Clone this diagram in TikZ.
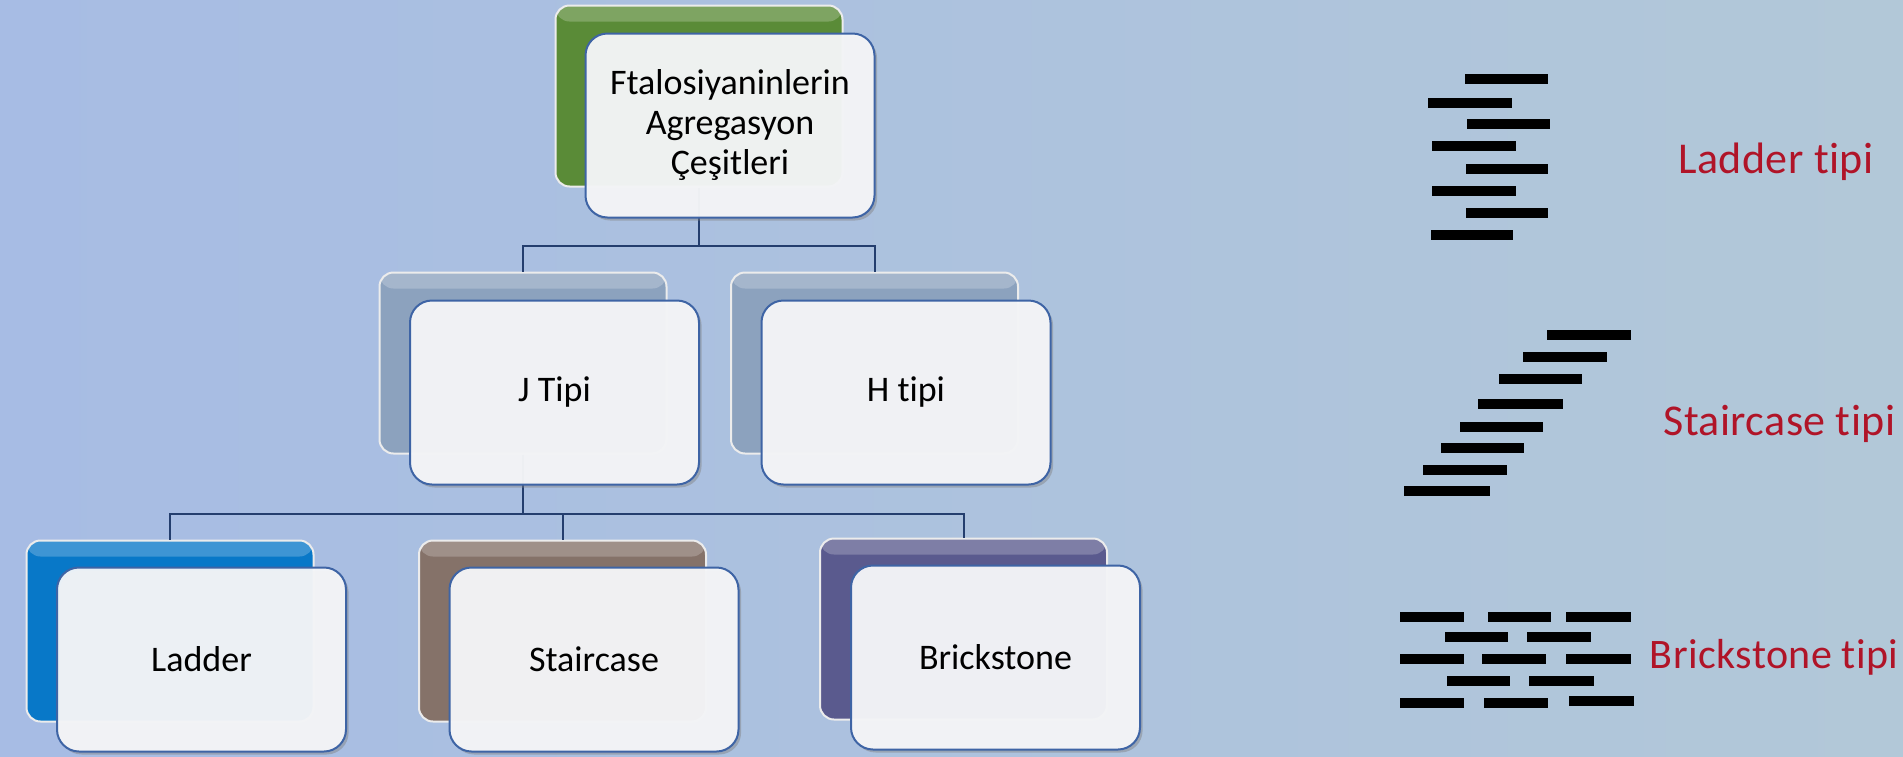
\documentclass[tikz,border=0pt]{standalone}
\usepackage{fontspec}
\setmainfont{Carlito}[Ligatures=NoCommon]
\newfontfamily\labelfont{Carlito}[Ligatures=NoCommon, LetterSpace=1]
\usetikzlibrary{shadows}

\definecolor{bgleft}{RGB}{167,188,228}
\definecolor{bgright}{RGB}{178,200,216}
\definecolor{linkblue}{RGB}{36,62,110}
\definecolor{frontedge}{RGB}{62,100,165}
\definecolor{frontfill}{RGB}{246,247,249}
\definecolor{rootgreen}{RGB}{90,139,55}
\definecolor{midgray}{RGB}{140,162,190}
\definecolor{ladderblue}{RGB}{8,120,200}
\definecolor{stairbrown}{RGB}{133,114,105}
\definecolor{brickpurple}{RGB}{90,90,142}
\definecolor{labelred}{RGB}{176,20,40}

\tikzset{
  backbox/.style={rectangle, rounded corners=7pt, minimum width=143.5pt,
    minimum height=90.5pt, inner sep=0pt, fill=#1, draw=white!85!gray, line width=1pt,
    path picture={\fill[white,opacity=0.22] (path picture bounding box.north west)
      rectangle ([yshift=-8pt]path picture bounding box.north east);}},
  frontbox/.style={rectangle, rounded corners=11pt, minimum width=144.5pt,
    minimum height=92pt, inner sep=0pt, draw=frontedge, line width=1pt,
    fill=frontfill, fill opacity=0.95, text opacity=1,
    font=\fontsize{18}{20}\selectfont, align=center,
    drop shadow={shadow xshift=1.3pt, shadow yshift=-1.5pt, opacity=0.45}},
  link/.style={draw=linkblue, line width=1pt},
  bar/.style={line width=5pt, black},
  typelabel/.style={anchor=base west, text=labelred, inner sep=0pt,
    font=\labelfont\fontsize{22}{26}\selectfont}
}

\begin{document}
\begin{tikzpicture}[x=0.5pt,y=-0.5pt]
\useasboundingbox (0,0) rectangle (1903,756);
\shade[left color=bgleft,right color=bgright] (0,0) rectangle (1903,756);

% coloured back panels
\node[backbox=rootgreen]   (rootbg)  at (699,96)    {};
\node[backbox=midgray]     (jbg)     at (523,363)   {};
\node[backbox=midgray]     (hbg)     at (874.5,363) {};
\node[backbox=ladderblue]  (ladbg)   at (170,631)   {};
\node[backbox=stairbrown]  (stairbg) at (562.5,631) {};
\node[backbox=brickpurple] (brickbg) at (963.5,629) {};

% elbow connectors
\draw[link] (rootbg.south) -- ++(0,58) -| (jbg.north);
\draw[link] (rootbg.south) -- ++(0,58) -| (hbg.north);
\draw[link] (jbg.south) -- ++(0,59) -| (ladbg.north);
\draw[link] (jbg.south) -- ++(0,59) -| (stairbg.north);
\draw[link] (jbg.south) -- ++(0,59) -| (brickbg.north);

% translucent front cards with the labels
\node[frontbox] (root)  at (730,125.5)   {Ftalosiyaninlerin\\Agregasyon\\Çeşitleri};
\node[frontbox] (jtype) at (554.5,392.5) {J Tipi};
\node[frontbox] (htype) at (906,392.5)   {H tipi};
\node[frontbox] (ladder) at (201.5,659.5) {Ladder};
\node[frontbox] (stair)  at (594,659.5)   {Staircase};
\node[frontbox] (brick)  at (995.5,657.5) {Brickstone};

% ladder stacking
\foreach \xa/\xb/\yy in {1465/1548/79, 1428/1512/103, 1467/1550/124, 1432/1516/146,
    1466/1548/169, 1432/1516/191, 1466/1548/213, 1431/1513/235}
  \draw[bar] (\xa,\yy) -- (\xb,\yy);

% staircase stacking
\foreach \xa/\xb/\yy in {1547/1631/335, 1523/1607/357, 1499/1582/379, 1478/1563/404,
    1460/1543/427, 1441/1524/448, 1423/1507/470, 1404/1490/491}
  \draw[bar] (\xa,\yy) -- (\xb,\yy);

% brickstone stacking
\foreach \xa/\xb/\yy in {1400/1464/617, 1488/1551/617, 1566/1631/617,
    1445/1508/637, 1527/1591/637,
    1400/1464/659, 1482/1546/659, 1566/1631/659,
    1447/1510/681, 1529/1594/681,
    1400/1464/703, 1484/1548/703, 1569/1634/701}
  \draw[bar] (\xa,\yy) -- (\xb,\yy);

\node[typelabel] (ladlabel)   at (1678,173) {Ladder tipi};
\node[typelabel] (stairlabel) at (1663,435) {Staircase tipi};
\node[typelabel, anchor=base east, font=\labelfont\fontsize{21}{25}\selectfont]
  (bricklabel) at (1899,668) {Brickstone tipi};
\end{tikzpicture}
\end{document}
